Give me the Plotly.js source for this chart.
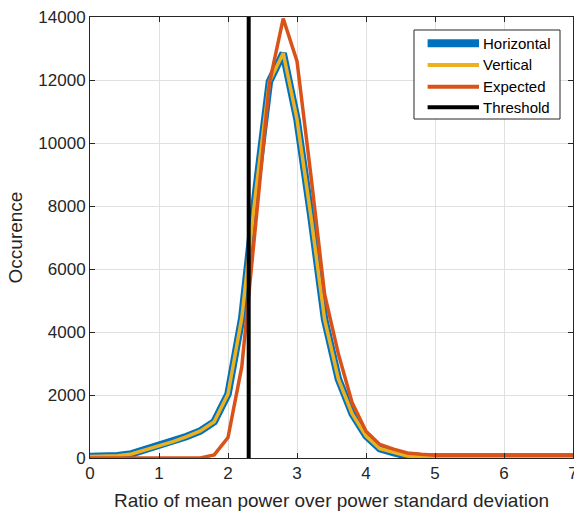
<!DOCTYPE html>
<html>
<head>
<meta charset="utf-8">
<script src="https://cdn.plot.ly/plotly-3.0.1.min.js"></script>
<style>html,body{margin:0;padding:0;background:#fff;}#chart{width:574px;height:511px;}</style>
</head>
<body>
<div id="chart"></div>
<script>
// Bin centres (ratio of mean power over power standard deviation)
const ratio = [0,0.2,0.4,0.6,0.8,1.0,1.2,1.4,1.6,1.8,2.0,2.2,2.4,2.6,2.8,3.0,3.2,3.4,3.6,3.8,4.0,4.2,4.4,4.6,4.8,5.0,5.2,5.4,5.6,5.8,6.0,6.2,6.4,6.6,6.8,7.0];
const horizontal = [50,50,70,130,260,390,520,680,860,1150,2030,4450,8400,11950,12850,10750,7700,4400,2500,1400,700,300,170,60,40,30,30,30,30,30,30,30,30,30,30,30];
const vertical   = [50,50,70,130,260,390,520,680,860,1150,2030,4450,8400,11950,12850,10750,7700,4400,2500,1400,700,300,170,60,40,30,30,30,30,30,30,30,30,30,30,30];
const expected   = [0,0,0,0,0,0,0,0,0,100,650,2900,7500,11900,13950,12600,9000,5200,3300,1750,850,430,280,160,120,90,90,90,90,90,90,90,90,90,90,90];
const thresholdX = [2.3,2.3];
const thresholdY = [0,14000];
const seriesNames = ['Horizontal','Vertical','Expected','Threshold'];
const seriesColors = ['#0072BD','#EDB120','#D95319','#000000'];
const seriesWidths = [7.5,3.5,3.5,4];

const ys = [horizontal, vertical, expected];
const traces = ys.map((y,i)=>({
  x: ratio, y: y, type:'scatter', mode:'lines', name: seriesNames[i],
  line:{color:seriesColors[i], width:seriesWidths[i]}, showlegend:false
}));
traces.push({x:thresholdX, y:thresholdY, type:'scatter', mode:'lines', name:seriesNames[3],
  line:{color:seriesColors[3], width:seriesWidths[3]}, showlegend:false});

// custom MATLAB-like legend (paper coordinates)
const shapes = [{type:'rect', xref:'paper', yref:'paper', x0:0.6708, x1:0.9731, y0:0.7687, y1:0.9705,
  line:{color:'#262626', width:1}, fillcolor:'#ffffff', layer:'above'}];
const annotations = [];
const rowY = [0.9404, 0.8912, 0.8420, 0.7952];
const legendWidths = [8,4,4,4];
seriesNames.forEach((n,i)=>{
  shapes.push({type:'line', xref:'paper', yref:'paper', x0:0.6990, x1:0.8054, y0:rowY[i], y1:rowY[i],
    line:{color:seriesColors[i], width:legendWidths[i]}, layer:'above'});
  annotations.push({xref:'paper', yref:'paper', x:0.8105, y:rowY[i], xanchor:'left', yanchor:'middle',
    text:n, showarrow:false, font:{family:'Liberation Sans, Arial, sans-serif', size:15, color:'#000'}});
});

const axisCommon = {
  showline:true, linecolor:'#262626', linewidth:1, mirror:'ticks',
  ticks:'inside', ticklen:5, tickcolor:'#262626', tickwidth:1,
  showgrid:true, gridcolor:'#e0e0e0', gridwidth:1, zeroline:false,
  ticklabeloverflow:'allow',
  tickfont:{family:'Liberation Sans, Arial, sans-serif', size:17, color:'#262626'}
};

const layout = {
  width:574, height:511,
  margin:{l:90, r:1, t:17, b:53},
  paper_bgcolor:'#ffffff', plot_bgcolor:'#ffffff',
  showlegend:false,
  xaxis: Object.assign({}, axisCommon, {range:[0,7], dtick:1, tick0:0, tickformat:'d',
    title:{text:'Ratio of mean power over power standard deviation', standoff:12,
      font:{family:'Liberation Sans, Arial, sans-serif', size:19, color:'#262626'}}}),
  yaxis: Object.assign({}, axisCommon, {range:[0,14000], dtick:2000, tick0:0, tickformat:'d',
    title:{text:'Occurence', standoff:10,
      font:{family:'Liberation Sans, Arial, sans-serif', size:19, color:'#262626'}}}),
  shapes: shapes,
  annotations: annotations
};

Plotly.newPlot('chart', traces, layout, {staticPlot:true, displayModeBar:false});
</script>
</body>
</html>
